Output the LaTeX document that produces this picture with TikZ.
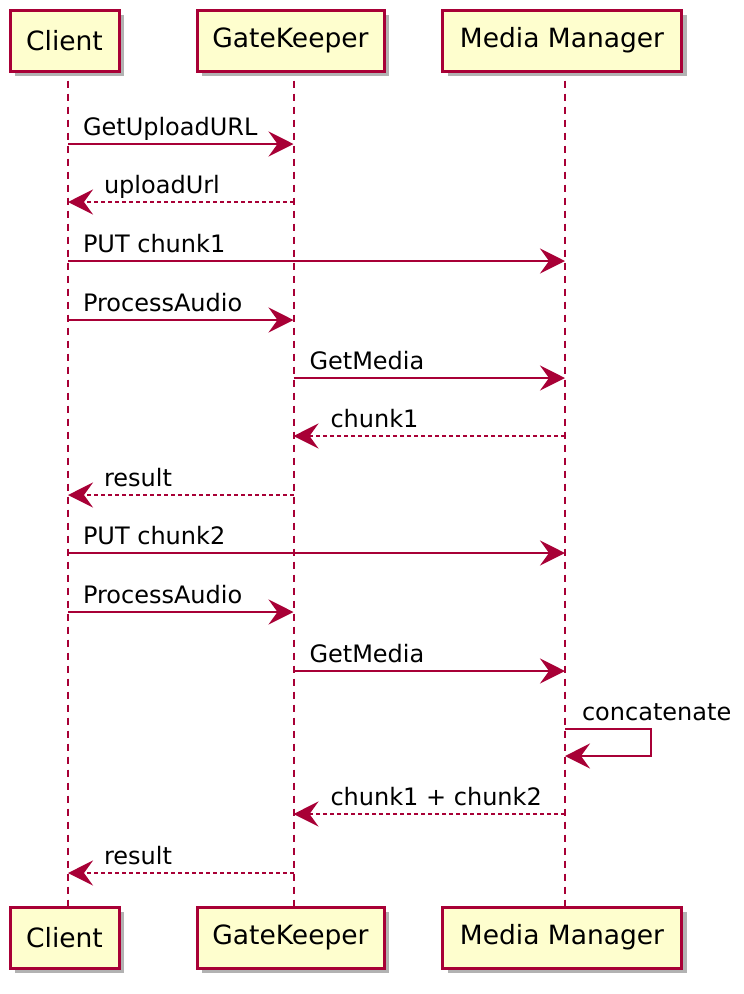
\documentclass[tikz,border=0pt]{standalone}
\usepackage{fontspec}
\setmainfont{DejaVu Sans}
\usepackage{tikz}
\usetikzlibrary{arrows.meta}
\usetikzlibrary{shadows}
\definecolor{umlred}{HTML}{A80036}
\definecolor{umlfill}{HTML}{FEFECE}
\tikzset{%
  party/.style={draw=umlred, line width=3pt, fill=umlfill, minimum height=61pt,
    inner sep=0pt, font=\fontsize{26.5}{30}\selectfont,
    drop shadow={shadow xshift=5pt, shadow yshift=-5pt, fill=black!30, opacity=1}},
  life/.style={umlred, line width=2pt, dash pattern=on 7pt off 6pt},
  call/.style={umlred, line width=2pt, -{Stealth[length=25pt, width=25pt, inset=9pt]}},
  reply/.style={call, dash pattern=on 4pt off 3pt},
  lbl/.style={anchor=base west, yshift=9pt, inner sep=0pt, text=black,
    font=\fontsize{24}{28}\selectfont}}

\begin{document}
\begin{tikzpicture}[x=1pt, y=-1pt]
\useasboundingbox (0,0) rectangle (744,994);
\node[party, minimum width=109pt] (client) at (64.5,40.5) {Client};
\node[party, minimum width=187pt] (gate) at (290.5,40.5) {GateKeeper};
\node[party, minimum width=239pt] (media) at (562,40.5) {Media Manager};
\node[party, minimum width=109pt] (clientB) at (64.5,937.5) {Client};
\node[party, minimum width=187pt] (gateB) at (290.5,937.5) {GateKeeper};
\node[party, minimum width=239pt] (mediaB) at (562,937.5) {Media Manager};
\path ([xshift=3.5pt]client.south) coordinate (cl)
      ([xshift=3pt]gate.south) coordinate (gk)
      ([xshift=3pt]media.south) coordinate (mm);
\draw[life] ([yshift=-8pt]cl) -- ([xshift=3.5pt]clientB.north);
\draw[life] ([yshift=-8pt]gk) -- ([xshift=3pt]gateB.north);
\draw[life] ([yshift=-8pt]mm) -- ([xshift=3pt]mediaB.north);

\draw[call] (cl |- 0,144) -- (gk |- 0,144) node[at start, lbl, xshift=14pt] {GetUploadURL};
\draw[reply] (gk |- 0,202) -- (cl |- 0,202) node[at end, lbl, xshift=35pt] {uploadUrl};
\draw[call] (cl |- 0,261) -- (mm |- 0,261) node[at start, lbl, xshift=14pt] {PUT chunk1};
\draw[call] (cl |- 0,320) -- (gk |- 0,320) node[at start, lbl, xshift=14pt] {ProcessAudio};
\draw[call] (gk |- 0,378) -- (mm |- 0,378) node[at start, lbl, xshift=15pt] {GetMedia};
\draw[reply] (mm |- 0,436) -- (gk |- 0,436) node[at end, lbl, xshift=36pt] {chunk1};
\draw[reply] (gk |- 0,495) -- (cl |- 0,495) node[at end, lbl, xshift=35pt] {result};
\draw[call] (cl |- 0,553) -- (mm |- 0,553) node[at start, lbl, xshift=14pt] {PUT chunk2};
\draw[call] (cl |- 0,612) -- (gk |- 0,612) node[at start, lbl, xshift=14pt] {ProcessAudio};
\draw[call] (gk |- 0,671) -- (mm |- 0,671) node[at start, lbl, xshift=15pt] {GetMedia};
\draw[call] (mm |- 0,729) node[lbl, xshift=16pt] {concatenate} -- ++(86,0) -- ++(0,27) -- (mm |- 0,756);
\draw[reply] (mm |- 0,814) -- (gk |- 0,814) node[at end, lbl, xshift=36pt] {chunk1 + chunk2};
\draw[reply] (gk |- 0,873) -- (cl |- 0,873) node[at end, lbl, xshift=35pt] {result};
\end{tikzpicture}
\end{document}
